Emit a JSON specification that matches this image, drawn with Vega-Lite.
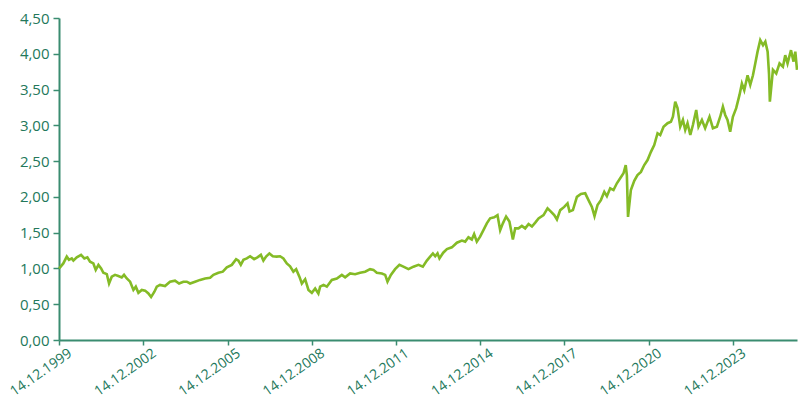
{
  "$schema": "https://vega.github.io/schema/vega-lite/v6.json",
  "width": 738,
  "height": 322,
  "autosize": {"type": "none"},
  "padding": {"left": 59, "top": 18, "right": 1, "bottom": 57},
  "background": "white",
  "config": {
    "view": {"stroke": null},
    "axis": {
      "labelFont": "Open Sans",
      "labelColor": "#23785b",
      "domainColor": "#3a8c70",
      "tickColor": "#3a8c70",
      "domainWidth": 2,
      "tickWidth": 1.5,
      "grid": false,
      "title": null
    }
  },
  "data": {
    "values": [
      {"d": "1999-12-14", "v": 1.0},
      {"d": "1999-12-28", "v": 1.015},
      {"d": "2000-02-08", "v": 1.07},
      {"d": "2000-03-24", "v": 1.165},
      {"d": "2000-04-22", "v": 1.12},
      {"d": "2000-05-28", "v": 1.14},
      {"d": "2000-06-18", "v": 1.11},
      {"d": "2000-08-01", "v": 1.155},
      {"d": "2000-09-26", "v": 1.19},
      {"d": "2000-11-08", "v": 1.14},
      {"d": "2000-12-17", "v": 1.155},
      {"d": "2001-01-21", "v": 1.095},
      {"d": "2001-03-05", "v": 1.07},
      {"d": "2001-04-05", "v": 0.98},
      {"d": "2001-05-10", "v": 1.05},
      {"d": "2001-06-14", "v": 1.0},
      {"d": "2001-07-13", "v": 0.94},
      {"d": "2001-08-27", "v": 0.92},
      {"d": "2001-09-25", "v": 0.79},
      {"d": "2001-10-30", "v": 0.885},
      {"d": "2001-12-12", "v": 0.91},
      {"d": "2002-01-24", "v": 0.895},
      {"d": "2002-03-09", "v": 0.875},
      {"d": "2002-04-08", "v": 0.91},
      {"d": "2002-05-14", "v": 0.86},
      {"d": "2002-06-26", "v": 0.815},
      {"d": "2002-08-08", "v": 0.70},
      {"d": "2002-09-08", "v": 0.745},
      {"d": "2002-10-12", "v": 0.66},
      {"d": "2002-11-25", "v": 0.70},
      {"d": "2003-01-07", "v": 0.69},
      {"d": "2003-02-19", "v": 0.65},
      {"d": "2003-03-26", "v": 0.60},
      {"d": "2003-05-08", "v": 0.675},
      {"d": "2003-06-08", "v": 0.745},
      {"d": "2003-07-20", "v": 0.77},
      {"d": "2003-09-23", "v": 0.755},
      {"d": "2003-11-27", "v": 0.815},
      {"d": "2004-01-31", "v": 0.83},
      {"d": "2004-03-24", "v": 0.79},
      {"d": "2004-05-19", "v": 0.815},
      {"d": "2004-07-02", "v": 0.815},
      {"d": "2004-08-14", "v": 0.79},
      {"d": "2004-10-18", "v": 0.815},
      {"d": "2004-12-22", "v": 0.84},
      {"d": "2005-02-26", "v": 0.86},
      {"d": "2005-05-02", "v": 0.87},
      {"d": "2005-06-14", "v": 0.91},
      {"d": "2005-08-18", "v": 0.94},
      {"d": "2005-10-14", "v": 0.955},
      {"d": "2005-12-05", "v": 1.015},
      {"d": "2006-02-08", "v": 1.05},
      {"d": "2006-04-05", "v": 1.13},
      {"d": "2006-05-05", "v": 1.11},
      {"d": "2006-06-05", "v": 1.05},
      {"d": "2006-07-09", "v": 1.12},
      {"d": "2006-08-22", "v": 1.14},
      {"d": "2006-10-04", "v": 1.17},
      {"d": "2006-11-25", "v": 1.13},
      {"d": "2007-01-07", "v": 1.155},
      {"d": "2007-02-21", "v": 1.19},
      {"d": "2007-03-26", "v": 1.11},
      {"d": "2007-04-30", "v": 1.165},
      {"d": "2007-06-12", "v": 1.21},
      {"d": "2007-07-26", "v": 1.17},
      {"d": "2007-09-16", "v": 1.165},
      {"d": "2007-10-29", "v": 1.17},
      {"d": "2007-12-11", "v": 1.14},
      {"d": "2008-01-24", "v": 1.07},
      {"d": "2008-03-07", "v": 1.03},
      {"d": "2008-04-19", "v": 0.955},
      {"d": "2008-05-25", "v": 0.99},
      {"d": "2008-07-06", "v": 0.885},
      {"d": "2008-08-07", "v": 0.79},
      {"d": "2008-09-19", "v": 0.85},
      {"d": "2008-11-01", "v": 0.70},
      {"d": "2008-12-15", "v": 0.66},
      {"d": "2009-01-27", "v": 0.72},
      {"d": "2009-03-10", "v": 0.65},
      {"d": "2009-04-02", "v": 0.745},
      {"d": "2009-05-16", "v": 0.77},
      {"d": "2009-06-28", "v": 0.745},
      {"d": "2009-09-01", "v": 0.84},
      {"d": "2009-11-05", "v": 0.86},
      {"d": "2010-01-09", "v": 0.91},
      {"d": "2010-02-21", "v": 0.875},
      {"d": "2010-04-27", "v": 0.93},
      {"d": "2010-07-01", "v": 0.92},
      {"d": "2010-09-04", "v": 0.94},
      {"d": "2010-11-08", "v": 0.955},
      {"d": "2011-01-12", "v": 0.99},
      {"d": "2011-02-24", "v": 0.98},
      {"d": "2011-04-09", "v": 0.94},
      {"d": "2011-06-14", "v": 0.93},
      {"d": "2011-07-27", "v": 0.91},
      {"d": "2011-08-26", "v": 0.815},
      {"d": "2011-10-09", "v": 0.91},
      {"d": "2011-12-03", "v": 0.99},
      {"d": "2012-01-28", "v": 1.05},
      {"d": "2012-03-20", "v": 1.025},
      {"d": "2012-05-25", "v": 0.99},
      {"d": "2012-07-29", "v": 1.025},
      {"d": "2012-10-02", "v": 1.05},
      {"d": "2012-11-28", "v": 1.025},
      {"d": "2013-01-19", "v": 1.11},
      {"d": "2013-03-03", "v": 1.165},
      {"d": "2013-04-08", "v": 1.21},
      {"d": "2013-05-08", "v": 1.17},
      {"d": "2013-06-07", "v": 1.21},
      {"d": "2013-07-02", "v": 1.14},
      {"d": "2013-08-20", "v": 1.22},
      {"d": "2013-10-07", "v": 1.27},
      {"d": "2013-12-10", "v": 1.295},
      {"d": "2014-02-14", "v": 1.36},
      {"d": "2014-04-19", "v": 1.39},
      {"d": "2014-06-02", "v": 1.375},
      {"d": "2014-07-14", "v": 1.435},
      {"d": "2014-08-27", "v": 1.405},
      {"d": "2014-09-26", "v": 1.48},
      {"d": "2014-10-31", "v": 1.375},
      {"d": "2014-12-13", "v": 1.445},
      {"d": "2015-01-25", "v": 1.535},
      {"d": "2015-03-10", "v": 1.63},
      {"d": "2015-04-22", "v": 1.70},
      {"d": "2015-06-14", "v": 1.715},
      {"d": "2015-07-27", "v": 1.745},
      {"d": "2015-08-31", "v": 1.535},
      {"d": "2015-10-05", "v": 1.63},
      {"d": "2015-11-16", "v": 1.725},
      {"d": "2015-12-29", "v": 1.655},
      {"d": "2016-02-12", "v": 1.405},
      {"d": "2016-03-13", "v": 1.56},
      {"d": "2016-04-25", "v": 1.56},
      {"d": "2016-06-08", "v": 1.595},
      {"d": "2016-07-21", "v": 1.56},
      {"d": "2016-09-03", "v": 1.62},
      {"d": "2016-10-17", "v": 1.585},
      {"d": "2016-11-29", "v": 1.64},
      {"d": "2017-01-11", "v": 1.70},
      {"d": "2017-03-17", "v": 1.745},
      {"d": "2017-05-08", "v": 1.84},
      {"d": "2017-06-21", "v": 1.795},
      {"d": "2017-08-03", "v": 1.745},
      {"d": "2017-09-07", "v": 1.685},
      {"d": "2017-10-20", "v": 1.815},
      {"d": "2017-12-11", "v": 1.86},
      {"d": "2018-01-23", "v": 1.91},
      {"d": "2018-02-18", "v": 1.795},
      {"d": "2018-04-03", "v": 1.815},
      {"d": "2018-05-25", "v": 2.0},
      {"d": "2018-07-16", "v": 2.04},
      {"d": "2018-09-10", "v": 2.05},
      {"d": "2018-10-23", "v": 1.955},
      {"d": "2018-12-06", "v": 1.86},
      {"d": "2019-01-09", "v": 1.73},
      {"d": "2019-02-17", "v": 1.885},
      {"d": "2019-04-02", "v": 1.955},
      {"d": "2019-05-16", "v": 2.07},
      {"d": "2019-06-19", "v": 2.01},
      {"d": "2019-08-01", "v": 2.12},
      {"d": "2019-09-13", "v": 2.095},
      {"d": "2019-10-27", "v": 2.19},
      {"d": "2019-12-09", "v": 2.26},
      {"d": "2020-01-21", "v": 2.33},
      {"d": "2020-02-19", "v": 2.445},
      {"d": "2020-03-05", "v": 2.30},
      {"d": "2020-03-20", "v": 1.72},
      {"d": "2020-04-26", "v": 2.095},
      {"d": "2020-06-09", "v": 2.225},
      {"d": "2020-07-21", "v": 2.305},
      {"d": "2020-09-04", "v": 2.35},
      {"d": "2020-10-17", "v": 2.445},
      {"d": "2020-11-29", "v": 2.515},
      {"d": "2021-01-12", "v": 2.63},
      {"d": "2021-02-24", "v": 2.725},
      {"d": "2021-04-08", "v": 2.89},
      {"d": "2021-05-13", "v": 2.865},
      {"d": "2021-06-25", "v": 2.98},
      {"d": "2021-08-16", "v": 3.03},
      {"d": "2021-09-29", "v": 3.05},
      {"d": "2021-10-25", "v": 3.12},
      {"d": "2021-11-24", "v": 3.33},
      {"d": "2021-12-24", "v": 3.24},
      {"d": "2022-01-28", "v": 2.98},
      {"d": "2022-03-04", "v": 3.075},
      {"d": "2022-04-03", "v": 2.935},
      {"d": "2022-05-03", "v": 3.03},
      {"d": "2022-06-08", "v": 2.865},
      {"d": "2022-07-12", "v": 3.005},
      {"d": "2022-08-24", "v": 3.215},
      {"d": "2022-09-23", "v": 2.98},
      {"d": "2022-11-06", "v": 3.075},
      {"d": "2022-12-18", "v": 2.96},
      {"d": "2023-02-13", "v": 3.12},
      {"d": "2023-03-29", "v": 2.96},
      {"d": "2023-05-20", "v": 2.98},
      {"d": "2023-07-02", "v": 3.12},
      {"d": "2023-08-06", "v": 3.26},
      {"d": "2023-09-05", "v": 3.145},
      {"d": "2023-10-05", "v": 3.075},
      {"d": "2023-11-09", "v": 2.91},
      {"d": "2023-12-14", "v": 3.12},
      {"d": "2024-01-26", "v": 3.24},
      {"d": "2024-03-09", "v": 3.425},
      {"d": "2024-04-09", "v": 3.585},
      {"d": "2024-05-10", "v": 3.49},
      {"d": "2024-06-22", "v": 3.70},
      {"d": "2024-07-27", "v": 3.565},
      {"d": "2024-08-31", "v": 3.70},
      {"d": "2024-09-30", "v": 3.865},
      {"d": "2024-10-30", "v": 4.03},
      {"d": "2024-12-04", "v": 4.19},
      {"d": "2025-01-09", "v": 4.12},
      {"d": "2025-02-08", "v": 4.17},
      {"d": "2025-03-10", "v": 4.03},
      {"d": "2025-03-28", "v": 3.72},
      {"d": "2025-04-08", "v": 3.33},
      {"d": "2025-05-18", "v": 3.775},
      {"d": "2025-06-30", "v": 3.725},
      {"d": "2025-08-12", "v": 3.865},
      {"d": "2025-09-25", "v": 3.82},
      {"d": "2025-10-25", "v": 3.98},
      {"d": "2025-11-24", "v": 3.865},
      {"d": "2026-01-08", "v": 4.05},
      {"d": "2026-02-10", "v": 3.89},
      {"d": "2026-03-05", "v": 4.03},
      {"d": "2026-03-27", "v": 3.775}
    ]
  },
  "mark": {"type": "line", "color": "#84bb26", "strokeWidth": 2.6, "interpolate": "linear"},
  "encoding": {
    "x": {
      "field": "d",
      "type": "temporal",
      "scale": {"type": "utc", "domain": [{"year": 1999, "month": 12, "date": 14, "utc": true}, {"year": 2026, "month": 3, "date": 27, "utc": true}]},
      "axis": {
        "values": [
          {"year": 1999, "month": 12, "date": 14, "utc": true},
          {"year": 2002, "month": 12, "date": 14, "utc": true},
          {"year": 2005, "month": 12, "date": 14, "utc": true},
          {"year": 2008, "month": 12, "date": 14, "utc": true},
          {"year": 2011, "month": 12, "date": 14, "utc": true},
          {"year": 2014, "month": 12, "date": 14, "utc": true},
          {"year": 2017, "month": 12, "date": 14, "utc": true},
          {"year": 2020, "month": 12, "date": 14, "utc": true},
          {"year": 2023, "month": 12, "date": 14, "utc": true}
        ],
        "labelExpr": "utcFormat(datum.value, '%d.%m.%Y')",
        "labelAngle": -35,
        "labelAlign": "right",
        "labelBaseline": "top",
        "labelFontSize": 14,
        "tickSize": 5,
        "labelPadding": 1,
        "labelOffset": 7,
        "labelOverlap": false,
        "labelFlush": false
      }
    },
    "y": {
      "field": "v",
      "type": "quantitative",
      "scale": {"domain": [0, 4.5], "nice": false, "zero": true},
      "axis": {
        "values": [0, 0.5, 1, 1.5, 2, 2.5, 3, 3.5, 4, 4.5],
        "labelExpr": "replace(format(datum.value, '.2f'), '.', ',')",
        "labelFontSize": 15,
        "tickSize": 6,
        "labelPadding": 4
      }
    }
  }
}
